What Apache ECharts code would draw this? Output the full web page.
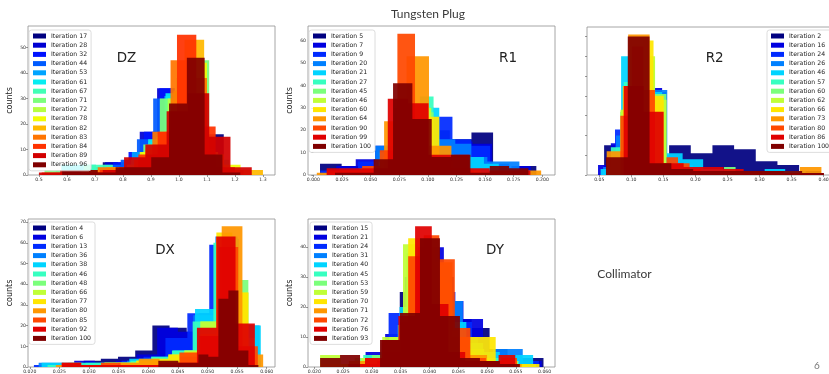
<!DOCTYPE html>
<html>
<head>
<meta charset="utf-8">
<script src="https://cdn.jsdelivr.net/npm/echarts@6/dist/echarts.min.js"></script>
<style>
  html, body { margin: 0; padding: 0; background: #ffffff; }
  #chart { width: 829px; height: 374px; }
</style>
</head>
<body>
<div id="chart"></div>
<script>
// ---------------- DZ ----------------
const dzIterations = [17, 28, 32, 44, 53, 61, 67, 71, 72, 78, 82, 83, 84, 89, 96];
const dzRanges = [
  [0.62, 1.16], [0.55, 1.17], [0.60, 1.15], [0.56, 1.14], [0.60, 1.18],
  [0.58, 1.20], [0.66, 1.18], [0.52, 1.108], [0.60, 1.20], [0.62, 1.22],
  [0.60, 1.30], [0.58, 1.23], [0.51, 1.20], [0.50, 1.26], [0.583, 1.219]
];
const dzCounts = [
  [1, 1, 5, 3, 9, 14, 29, 20, 9, 16],
  [1, 0, 2, 5, 3, 17, 34, 30, 12, 3],
  [1, 1, 2, 5, 9, 17, 34, 22, 8, 2],
  [2, 1, 3, 4, 6, 14, 30, 25, 12, 3],
  [3, 3, 2, 3, 9, 13, 31, 24, 10, 2],
  [4, 4, 2, 3, 6, 14, 32, 24, 8, 3],
  [4, 4, 2, 4, 9, 14, 32, 40, 10, 6],
  [2, 2, 1, 2, 3, 4, 12, 30, 38, 45],
  [1, 1, 2, 3, 4, 10, 30, 38, 9, 2],
  [2, 1, 2, 3, 9, 15, 33, 44, 8, 4],
  [1, 2, 3, 3, 10, 17, 53, 8, 2, 2],
  [1, 2, 3, 3, 6, 17, 45, 38, 3, 2],
  [1, 1, 1, 2, 3, 8, 17, 55, 19, 3],
  [1, 2, 1, 2, 7, 12, 25, 32, 15, 3],
  [2, 2, 1, 3, 3, 7, 28, 46, 8, 1]
];
const dzXTicks = [0.5, 0.6, 0.7, 0.8, 0.9, 1.0, 1.1, 1.2, 1.3];
const dzYTicks = [0, 10, 20, 30, 40, 50];

// ---------------- R1 ----------------
const r1Iterations = [5, 7, 9, 20, 21, 27, 45, 46, 60, 64, 90, 99, 100];
const r1Ranges = [
  [0.0058, 0.1948], [0.02, 0.19], [0.006, 0.171], [0.04, 0.18], [0.045, 0.175],
  [0.045, 0.165], [0.05, 0.16], [0.048, 0.158], [0.05, 0.17], [0.003, 0.199],
  [0.0118, 0.1658], [0.0116, 0.1896], [0.0189, 0.1879]
];
const r1Counts = [
  [5, 4, 5, 12, 25, 20, 16, 19, 3, 4],
  [4, 7, 13, 30, 22, 15, 15, 14, 3, 4],
  [2, 3, 6, 10, 24, 30, 26, 16, 13, 5],
  [3, 13, 12, 30, 20, 16, 14, 8, 6, 6],
  [3, 10, 20, 31, 30, 9, 8, 8, 5, 2],
  [3, 6, 12, 28, 35, 8, 4, 2, 1, 1],
  [3, 8, 20, 30, 28, 4, 3, 2, 1, 1],
  [2, 6, 18, 32, 30, 6, 3, 2, 1, 0],
  [2, 8, 22, 30, 26, 6, 3, 2, 0, 1],
  [1, 2, 3, 24, 53, 13, 2, 0, 0, 2],
  [2, 2, 4, 11, 63, 8, 5, 3, 1, 1],
  [3, 3, 3, 34, 32, 9, 9, 3, 2, 2],
  [1, 1, 7, 41, 25, 8, 9, 1, 4, 3]
];
const r1XTicks = [0, 0.025, 0.05, 0.075, 0.1, 0.125, 0.15, 0.175, 0.2];
const r1YTicks = [0, 10, 20, 30, 40, 50, 60];

// ---------------- R2 ----------------
const r2Iterations = [2, 16, 24, 26, 46, 57, 60, 62, 66, 73, 80, 86, 100];
const r2Ranges = [
  [0.0575, 0.3955], [0.048, 0.248], [0.0545, 0.2545], [0.056, 0.256], [0.052, 0.372],
  [0.068, 0.268], [0.0826, 0.2626], [0.083, 0.263], [0.0866, 0.2466], [0.0615, 0.3965],
  [0.0828, 0.2628], [0.088, 0.40], [0.0604, 0.4004]
];
const r2Counts = [
  [15, 8, 9, 15, 11, 15, 13, 7, 5, 2],
  [5, 16, 45, 50, 44, 9, 4, 3, 2, 1],
  [3, 23, 55, 50, 42, 10, 5, 3, 2, 1],
  [4, 20, 58, 52, 43, 8, 5, 3, 2, 1],
  [3, 60, 42, 11, 8, 3, 2, 2, 3, 2],
  [14, 47, 62, 40, 6, 3, 2, 1, 1, 1],
  [32, 62, 58, 41, 5, 3, 2, 1, 1, 4],
  [33, 64, 60, 38, 4, 3, 2, 1, 1, 1],
  [45, 66, 68, 40, 4, 3, 2, 1, 1, 1],
  [12, 71, 6, 2, 1, 1, 1, 1, 1, 4],
  [30, 65, 43, 6, 9, 6, 3, 2, 2, 1],
  [45, 32, 6, 4, 4, 3, 2, 2, 1, 1],
  [9, 70, 6, 3, 2, 2, 2, 2, 2, 1]
];
const r2XTicks = [0.05, 0.10, 0.15, 0.20, 0.25, 0.30, 0.35, 0.40];
const r2YTicks = [0, 10, 20, 30, 40, 50, 60, 70];

// ---------------- DX ----------------
const dxIterations = [4, 6, 13, 36, 38, 46, 48, 66, 77, 80, 85, 92, 100];
const dxRanges = [
  [0.0291, 0.0581], [0.0240, 0.0590], [0.0207, 0.0577], [0.0215, 0.0588], [0.0220, 0.0590],
  [0.0230, 0.0580], [0.0299, 0.0569], [0.0299, 0.0569], [0.0299, 0.0569], [0.0244, 0.0594],
  [0.0254, 0.0585], [0.0254, 0.0580], [0.0417, 0.0586]
];
const dxCounts = [
  [3, 4, 5, 8, 20, 19, 17, 15, 5, 1],
  [1, 3, 2, 3, 6, 19, 17, 26, 20, 3],
  [1, 1, 1, 2, 3, 5, 14, 26, 59, 20],
  [2, 2, 1, 2, 3, 4, 6, 25, 63, 20],
  [2, 1, 2, 2, 4, 5, 8, 28, 62, 20],
  [1, 2, 2, 2, 3, 5, 8, 22, 60, 14],
  [1, 2, 2, 3, 4, 5, 8, 22, 60, 42],
  [1, 2, 2, 3, 3, 6, 8, 22, 62, 36],
  [1, 2, 2, 3, 4, 6, 7, 16, 65, 36],
  [1, 1, 1, 2, 4, 2, 5, 15, 68, 6],
  [2, 1, 2, 1, 1, 2, 7, 15, 58, 10],
  [2, 1, 1, 1, 1, 1, 2, 19, 63, 21],
  [3, 3, 2, 2, 6, 5, 33, 37, 8, 1]
];
const dxXTicks = [0.020, 0.025, 0.030, 0.035, 0.040, 0.045, 0.050, 0.055, 0.060];
const dxYTicks = [0, 10, 20, 30, 40, 50, 60, 70];

// ---------------- DY ----------------
const dyIterations = [15, 21, 24, 31, 40, 45, 53, 59, 70, 71, 72, 76, 93];
const dyRanges = [
  [0.0286, 0.0598], [0.0255, 0.0595], [0.0300, 0.0590], [0.0302, 0.0562], [0.0290, 0.0580],
  [0.0285, 0.0585], [0.0270, 0.0570], [0.0210, 0.0570], [0.0211, 0.0591], [0.0260, 0.0560],
  [0.0282, 0.0552], [0.0259, 0.0549], [0.0210, 0.0557]
];
const dyCounts = [
  [3, 8, 25, 38, 30, 16, 13, 6, 3, 3],
  [1, 5, 11, 30, 40, 22, 16, 5, 3, 2],
  [2, 18, 30, 40, 25, 15, 10, 5, 3, 2],
  [2, 6, 20, 38, 30, 22, 10, 5, 6, 6],
  [1, 5, 20, 38, 32, 15, 8, 5, 4, 4],
  [4, 5, 14, 40, 34, 10, 6, 3, 2, 1],
  [3, 4, 10, 38, 33, 12, 5, 3, 2, 1],
  [4, 1, 3, 10, 41, 30, 6, 3, 1, 1],
  [1, 1, 2, 6, 43, 28, 10, 10, 2, 1],
  [2, 3, 5, 15, 40, 35, 10, 4, 2, 1],
  [1, 2, 5, 37, 44, 36, 13, 3, 2, 3],
  [1, 3, 9, 17, 47, 21, 5, 2, 2, 4],
  [3, 4, 0, 9, 18, 43, 17, 3, 2, 1]
];
const dyXTicks = [0.020, 0.025, 0.030, 0.035, 0.040, 0.045, 0.050, 0.055, 0.060];
const dyYTicks = [0, 10, 20, 30, 40];

// ---------------- jet colormap ----------------
const JET_R = [[0, 0], [0.35, 0], [0.66, 1], [0.89, 1], [1, 0.5]];
const JET_G = [[0, 0], [0.125, 0], [0.375, 1], [0.64, 1], [0.91, 0], [1, 0]];
const JET_B = [[0, 0.5], [0.11, 1], [0.34, 1], [0.65, 0], [1, 0]];
function seg(s, t) {
  for (let k = 1; k < s.length; k++) {
    if (t <= s[k][0]) {
      const [x0, y0] = s[k - 1], [x1, y1] = s[k];
      return y0 + (y1 - y0) * (t - x0) / (x1 - x0);
    }
  }
  return s[s.length - 1][1];
}
function jet(t) {
  const c = v => Math.round(Math.max(0, Math.min(1, v)) * 255);
  return 'rgb(' + c(seg(JET_R, t)) + ',' + c(seg(JET_G, t)) + ',' + c(seg(JET_B, t)) + ')';
}

// ---------------- panel layout ----------------
const panels = [
  { key: 'DZ', iters: dzIterations, ranges: dzRanges, counts: dzCounts, xTicks: dzXTicks, yTicks: dzYTicks,
    grid: { left: 28, top: 26, width: 247, height: 149 }, xMin: 0.461, xMax: 1.343, yMax: 58.4, dec: 1,
    legend: { left: 29, top: 30 }, tag: [126.5, 58], yName: 'counts', yLabels: true },
  { key: 'R1', iters: r1Iterations, ranges: r1Ranges, counts: r1Counts, xTicks: r1XTicks, yTicks: r1YTicks,
    grid: { left: 308, top: 26, width: 247, height: 149 }, xMin: -0.0047, xMax: 0.2111, yMax: 66.5, dec: 3,
    legend: { left: 309, top: 30 }, tag: [508, 58], yName: 'counts', yLabels: true },
  { key: 'R2', iters: r2Iterations, ranges: r2Ranges, counts: r2Counts, xTicks: r2XTicks, yTicks: r2YTicks,
    grid: { left: 587, top: 27, width: 248, height: 148 }, xMin: 0.0308, xMax: 0.4177, yMax: 74.8, dec: 2,
    legend: { left: 767, top: 30 }, tag: [714.7, 58], yName: '', yLabels: false },
  { key: 'DX', iters: dxIterations, ranges: dxRanges, counts: dxCounts, xTicks: dxXTicks, yTicks: dxYTicks,
    grid: { left: 28, top: 219, width: 247, height: 148 }, xMin: 0.0197, xMax: 0.0614, yMax: 71.5, dec: 3,
    legend: { left: 29, top: 222 }, tag: [165, 250], yName: 'counts', yLabels: true },
  { key: 'DY', iters: dyIterations, ranges: dyRanges, counts: dyCounts, xTicks: dyXTicks, yTicks: dyYTicks,
    grid: { left: 308, top: 219, width: 247, height: 148 }, xMin: 0.0189, xMax: 0.0618, yMax: 49.4, dec: 3,
    legend: { left: 310, top: 222 }, tag: [495, 250], yName: 'counts', yLabels: true }
];

const tickFont = { fontSize: 4.6, color: '#333', fontFamily: 'DejaVu Sans' };

function histBins(range, counts) {
  const n = counts.length, w = (range[1] - range[0]) / n;
  return counts.map((c, i) => [range[0] + i * w, range[0] + (i + 1) * w, c]);
}

function stepRender(bins, color) {
  return function (params, api) {
    if (params.dataIndex !== 0) return null;
    const pts = [api.coord([bins[0][0], 0])];
    bins.forEach(b => { pts.push(api.coord([b[0], b[2]])); pts.push(api.coord([b[1], b[2]])); });
    pts.push(api.coord([bins[bins.length - 1][1], 0]));
    return { type: 'polygon', shape: { points: pts }, style: { fill: color, opacity: 0.93 } };
  };
}

const grids = [], xAxes = [], yAxes = [], series = [], legends = [], texts = [];

panels.forEach((p, pi) => {
  grids.push(Object.assign({ show: true, borderColor: '#8f8f8f', borderWidth: 0.8,
    backgroundColor: 'transparent', containLabel: false, outerBoundsMode: 'none' }, p.grid));
  xAxes.push({
    type: 'value', gridIndex: pi, min: p.xMin, max: p.xMax,
    axisLine: { show: false }, splitLine: { show: false },
    axisTick: { show: true, customValues: p.xTicks, length: 2, lineStyle: { color: '#555', width: 0.6 } },
    axisLabel: Object.assign({ customValues: p.xTicks, margin: 2, formatter: v => v.toFixed(p.dec) }, tickFont)
  });
  yAxes.push({
    type: 'value', gridIndex: pi, min: 0, max: p.yMax,
    name: p.yName, nameLocation: 'middle', nameGap: 14,
    nameTextStyle: { fontSize: 8, color: '#222', fontFamily: 'DejaVu Sans' },
    axisLine: { show: false }, splitLine: { show: false },
    axisTick: { show: true, customValues: p.yTicks, length: 2, lineStyle: { color: '#555', width: 0.6 } },
    axisLabel: Object.assign({ show: p.yLabels, customValues: p.yTicks, margin: 2 }, tickFont)
  });
  const names = [];
  p.iters.forEach((it, i) => {
    const color = jet(p.iters.length > 1 ? i / (p.iters.length - 1) : 0);
    const bins = histBins(p.ranges[i], p.counts[i]);
    const name = p.key + '|Iteration ' + it;
    names.push(name);
    series.push({
      type: 'custom', name: name, xAxisIndex: pi, yAxisIndex: pi,
      itemStyle: { color: color }, clip: true, silent: true,
      encode: { x: [0, 1], y: 2 },
      data: bins, renderItem: stepRender(bins, color)
    });
  });
  legends.push({
    data: names, orient: 'vertical', left: p.legend.left, top: p.legend.top,
    icon: 'rect', itemWidth: 13, itemHeight: 5, itemGap: 1.2,
    padding: [2, 4, 2, 4], borderColor: '#d4d4d4', borderWidth: 0.8, borderRadius: 2.5,
    backgroundColor: 'rgba(255,255,255,0.8)', selectedMode: false,
    textStyle: { fontSize: 6.2, lineHeight: 8, color: '#222', fontFamily: 'DejaVu Sans' },
    formatter: n => n.split('|')[1]
  });
  texts.push({ type: 'text', x: p.tag[0], y: p.tag[1], z: 10,
    style: { text: p.key, fontSize: 13.5, fill: '#222', fontFamily: 'DejaVu Sans', align: 'center', verticalAlign: 'middle' } });
});

texts.push({ type: 'text', x: 428, y: 14,
  style: { text: 'Tungsten Plug', fontSize: 12, fill: '#3a3a3a', fontFamily: 'Lato', align: 'center', verticalAlign: 'middle' } });
texts.push({ type: 'text', x: 624.5, y: 274,
  style: { text: 'Collimator', fontSize: 12, fill: '#3a3a3a', fontFamily: 'Lato', align: 'center', verticalAlign: 'middle' } });
texts.push({ type: 'text', x: 817, y: 366,
  style: { text: '6', fontSize: 10, fill: '#777', fontFamily: 'Lato', align: 'center', verticalAlign: 'middle' } });

const chart = echarts.init(document.getElementById('chart'), null, { renderer: 'canvas' });
chart.setOption({
  animation: false,
  backgroundColor: '#ffffff',
  grid: grids, xAxis: xAxes, yAxis: yAxes,
  legend: legends, series: series,
  graphic: { elements: texts }
});
</script>
</body>
</html>
